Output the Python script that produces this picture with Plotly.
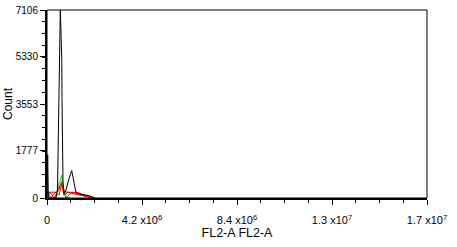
import plotly.graph_objects as go

# ---- data (x in FL2-A units, y in counts) ----
black_x = [0, 30000, 60000, 398000, 464000, 500000, 561000, 588000, 628000, 654000, 663000, 676000,
           707000, 752000, 840000, 928000, 1092000, 1194000, 1269000, 1370000, 1547000, 1813000,
           1989000, 2122000]
black_y = [0, 1630, 0, 0, 300, 2450, 5200, 7106, 6000, 5200, 3800, 2450,
           600, 150, 300, 600, 1035, 600, 240, 180, 120, 100, 30, 0]

green_x = [354000, 420000, 531000, 650000, 707000, 796000, 840000, 1017000]
green_y = [0, 190, 450, 870, 500, 100, 60, 0]

redA_x = [0, 221000, 398000, 486000, 575000, 650000, 707000, 796000, 1017000, 1326000, 1680000, 2122000]
redA_y = [220, 210, 220, 300, 450, 620, 350, 230, 215, 210, 110, 0]
redB_x = [0, 133000, 309000, 442000, 575000, 663000, 752000, 928000, 1238000, 1901000]
redB_y = [0, 220, 0, 220, 400, 500, 100, 220, 150, 30]
redC_x = [0, 177000, 354000, 531000, 663000, 840000, 1105000, 1459000, 1989000]
redC_y = [220, 0, 220, 100, 550, 0, 220, 120, 0]

x_tickvals = [0, 4.2e6, 8.4e6, 12.6e6, 16.8e6]
x_ticktext = ["0", "4.2 x10<sup>6</sup>", "8.4 x10<sup>6</sup>", "1.3 x10<sup>7</sup>", "1.7 x10<sup>7</sup>"]
y_tickvals = [0, 1777, 3553, 5330, 7106]
y_ticktext = ["0", "1777", "3553", "5330", "7106"]

FONT = "Liberation Sans, Arial, sans-serif"

fig = go.Figure()
for xs, ys in [(redA_x, redA_y), (redB_x, redB_y), (redC_x, redC_y)]:
    fig.add_trace(go.Scatter(x=xs, y=ys, mode="lines", line=dict(color="#ff0000", width=1)))
fig.add_trace(go.Scatter(x=green_x, y=green_y, mode="lines", line=dict(color="#00e000", width=1)))
fig.add_trace(go.Scatter(x=black_x, y=black_y, mode="lines", line=dict(color="#000000", width=1)))

fig.update_layout(
    width=457, height=247,
    margin=dict(l=47, r=30, t=10, b=49),
    paper_bgcolor="white", plot_bgcolor="white",
    showlegend=False,
    font=dict(family=FONT, size=11, color="black"),
    xaxis=dict(
        range=[0, 16.8e6], tickmode="array", tickvals=x_tickvals, ticktext=x_ticktext,
        automargin=False, ticklabelstandoff=6,
        showgrid=False, zeroline=False, showline=True, linecolor="black", linewidth=2,
        ticks="outside", ticklen=5, tickwidth=1, tickcolor="black",
        minor=dict(ticks="outside", ticklen=3, tickwidth=1, tickcolor="black", tick0=0, dtick=1.05e6),
        title=dict(text="FL2-A FL2-A", font=dict(size=12.5), standoff=0),
        tickfont=dict(size=11),
    ),
    yaxis=dict(
        range=[0, 7106], tickmode="array", tickvals=y_tickvals, ticktext=y_ticktext,
        automargin=False,
        showgrid=False, zeroline=False, showline=True, linecolor="black", linewidth=2,
        ticks="outside", ticklen=5, tickwidth=1, tickcolor="black",
        minor=dict(ticks="outside", ticklen=3, tickwidth=1, tickcolor="black", tick0=0, dtick=7106 / 16),
        title=dict(text="Count", font=dict(size=12), standoff=1),
        tickfont=dict(size=10),
    ),
    shapes=[dict(type="rect", xref="paper", yref="paper", x0=0, y0=0, x1=1, y1=1,
                 line=dict(color="black", width=1), fillcolor="rgba(0,0,0,0)")],
)

fig.write_html("out.html")
